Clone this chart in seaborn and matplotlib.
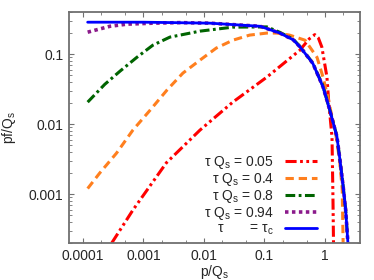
import numpy as np
import pandas as pd
import matplotlib
matplotlib.use("Agg")
import matplotlib.pyplot as plt
from matplotlib.ticker import FixedLocator, FuncFormatter, LogLocator, NullFormatter
import seaborn as sns

# ---- data (p/Qs, pf/Qs) ----
p_blue = [1.2e-4, 1e-3, 0.0126, 0.085, 0.18, 0.3, 0.39, 0.63, 0.93, 1.2, 1.58, 1.78, 2.0, 2.2, 2.4, 2.6]
f_blue = [0.286, 0.286, 0.277, 0.25, 0.2, 0.16, 0.126, 0.074, 0.034, 0.016, 0.0066, 0.003, 0.0013, 0.0006, 0.0002, 0.0001]

p_purple = [1.2e-4, 2.8e-4, 5.3e-4, 1.43e-3, 4e-3, 0.0126, 0.085, 0.18, 0.3, 0.39, 0.63, 0.93, 1.2, 1.58, 1.78, 2.0, 2.2, 2.4, 2.6]
f_purple = [0.206, 0.25, 0.268, 0.277, 0.282, 0.277, 0.25, 0.2, 0.16, 0.126, 0.074, 0.034, 0.016, 0.0066, 0.003, 0.0013, 0.0006, 0.0002, 0.0001]

p_green = [1.2e-4, 2.3e-4, 4.1e-4, 7.8e-4, 1.43e-3, 2.74e-3, 8.6e-3, 0.03, 0.11, 0.18, 0.3, 0.39, 0.63, 0.93, 1.2, 1.58, 1.78, 2.0, 2.2, 2.4, 2.6]
f_green = [0.0206, 0.037, 0.057, 0.09, 0.134, 0.175, 0.213, 0.243, 0.245, 0.205, 0.163, 0.128, 0.075, 0.035, 0.016, 0.0067, 0.003, 0.0013, 0.0006, 0.0002, 0.0001]

p_orange = [1.2e-4, 1.9e-4, 3.6e-4, 6.7e-4, 1.29e-3, 2.45e-3, 4.5e-3, 8.6e-3, 0.016, 0.03, 0.057, 0.11, 0.16,
            0.26, 0.47, 0.74, 0.93, 1.12, 1.31, 1.52, 1.75, 1.93, 2.0, 2.05]
f_orange = [0.0012, 0.002, 0.00385, 0.0082, 0.0158, 0.0306, 0.0536, 0.082, 0.122, 0.158, 0.187, 0.2, 0.2,
            0.187, 0.158, 0.09, 0.047, 0.0243, 0.0126, 0.007, 0.003, 0.0012, 0.0002, 0.0001]

p_red = [3.0e-4, 6.7e-4, 2.4e-3, 8.6e-3, 0.03, 0.11, 0.386, 0.55, 0.68, 0.78, 0.89, 1.08, 1.16, 1.31, 1.36, 1.4]
f_red = [2.0e-4, 5.9e-4, 2.8e-3, 8.2e-3, 0.0206, 0.047, 0.114, 0.165, 0.19, 0.17, 0.126, 0.047, 0.02, 0.0065, 0.0008, 0.0001]

labels = [r"τ Q$_s$ = 0.05", r"τ Q$_s$ = 0.4", r"τ Q$_s$ = 0.8", r"τ Q$_s$ = 0.94", r"τ       = τ$_c$"]
xticks = [1e-4, 1e-3, 1e-2, 1e-1, 1]
yticks = [1e-3, 1e-2, 1e-1]

sns.set_style("ticks")
plt.rcParams["font.family"] = ["Liberation Sans", "DejaVu Sans"]
plt.rcParams["mathtext.default"] = "regular"
plt.rcParams["lines.scale_dashes"] = False

fig = plt.figure(figsize=(3.74, 2.8), dpi=100)
ax = fig.add_axes([69 / 374, 1 - 243 / 280, 291 / 374, 231 / 280])
ax.set_xscale("log")
ax.set_yscale("log")

series = [
    (p_red, f_red, "#ff0000", (0, (8, 2.5, 2, 2.5, 2, 2.5)), 2.2, labels[0]),
    (p_orange, f_orange, "#ff7f1e", (0, (6, 3.5)), 2.2, labels[1]),
    (p_green, f_green, "#006400", (0, (7, 2.5, 2, 2.5)), 2.2, labels[2]),
    (p_purple, f_purple, "#8b1a8b", (0, (2.5, 2.5)), 2.6, labels[3]),
    (p_blue, f_blue, "#0000ff", "-", 2.0, labels[4]),
]
for xs, ys, col, ls, lw, lab in series:
    df = pd.DataFrame({"p": xs, "f": ys})
    sns.lineplot(data=df, x="p", y="f", ax=ax, color=col, linestyle=ls,
                 linewidth=lw, label=lab, sort=False, dash_capstyle="butt")

ax.set_xlim(5.9e-5, 3.8)
ax.set_ylim(2e-4, 0.4)

ax.xaxis.set_major_locator(FixedLocator(xticks))
ax.yaxis.set_major_locator(FixedLocator(yticks))
fmt = FuncFormatter(lambda v, pos: "%g" % v)
ax.xaxis.set_major_formatter(fmt)
ax.yaxis.set_major_formatter(fmt)
ax.xaxis.set_minor_locator(LogLocator(base=10, subs=(2, 5)))
ax.yaxis.set_minor_locator(LogLocator(base=10, subs=np.arange(2, 10)))
ax.xaxis.set_minor_formatter(NullFormatter())
ax.yaxis.set_minor_formatter(NullFormatter())

ax.tick_params(which="both", direction="in", top=True, right=True,
               color="#707070", labelsize=10, pad=4)
ax.tick_params(which="major", length=3.5, width=0.8)
ax.tick_params(which="minor", length=2, width=0.6)
for s in ax.spines.values():
    s.set_color("#707070")
    s.set_linewidth(1.3)

ax.set_xlabel(r"p/Q$_s$", fontsize=10, labelpad=0)
ax.set_ylabel(r"pf/Q$_s$", fontsize=10, labelpad=8)

leg = ax.legend(loc="lower right", bbox_to_anchor=(0.852, 0.026), frameon=False,
                markerfirst=False, fontsize=10, handlelength=2.3, handletextpad=0.8,
                labelspacing=0.0, borderpad=0, borderaxespad=0)

fig.savefig("out.png", dpi=100)
